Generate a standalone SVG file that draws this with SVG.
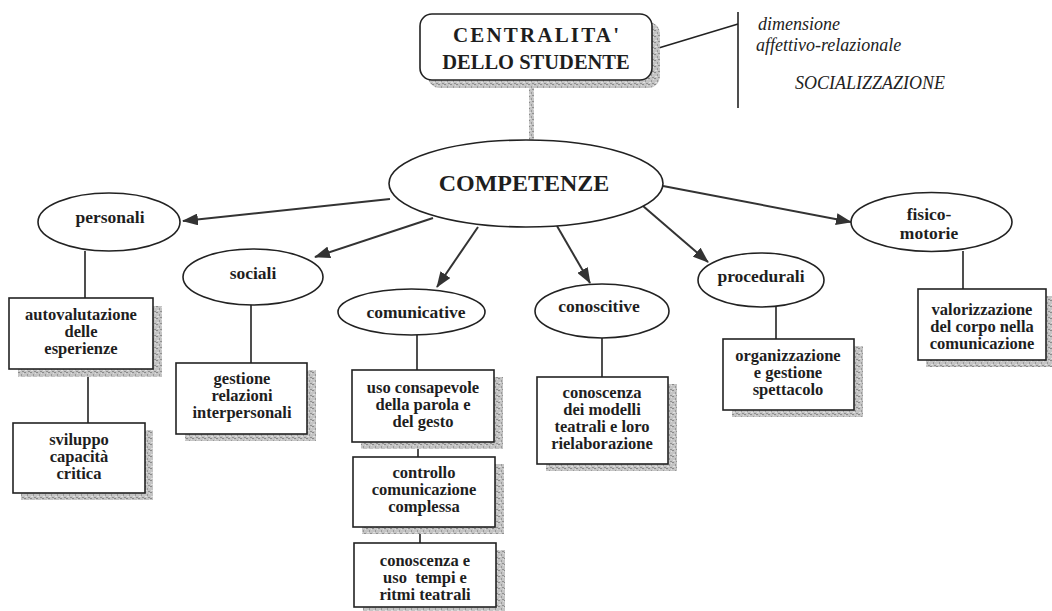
<svg xmlns="http://www.w3.org/2000/svg" width="1052" height="611" viewBox="0 0 1052 611">
<style>
.bg{fill:#fff}
.box{fill:#fff;stroke:#222;stroke-width:1.6}
.shd{fill:url(#grain)}
.ell{fill:#fff;stroke:#222;stroke-width:1.6}
.ln{stroke:#222;stroke-width:1.6;fill:none}
.arr{stroke:#333;stroke-width:2;fill:none;marker-end:url(#ah)}
.t{font-family:"Liberation Serif","Times New Roman",serif;font-weight:bold;fill:#1e1e1e;text-anchor:middle}
.bt{font-size:16.5px}
.et{font-size:17.5px}
.it{font-family:"Liberation Serif","Times New Roman",serif;font-style:italic;font-size:18px;fill:#222}
</style>
<defs>
<pattern id="grain" width="6" height="6" patternUnits="userSpaceOnUse">
<rect width="6" height="6" fill="#c4c4c4"/>
<rect x="0" y="0" width="2" height="1" fill="#8a8a8a"/>
<rect x="3" y="2" width="1" height="2" fill="#999"/>
<rect x="1" y="4" width="2" height="1" fill="#e0e0e0"/>
<rect x="4" y="5" width="2" height="1" fill="#909090"/>
<rect x="5" y="1" width="1" height="1" fill="#ddd"/>
</pattern>
<marker id="ah" markerUnits="userSpaceOnUse" markerWidth="16" markerHeight="12" refX="15" refY="6" orient="auto">
<path d="M0,0 L16,6 L0,12 Z" fill="#333"/>
</marker>
</defs>
<rect class="bg" width="1052" height="611"/>

<g id="connectors">
<rect x="529" y="82" width="5" height="58" fill="url(#grain)"/>
<line class="ln" x1="652" y1="50" x2="738" y2="24"/>
<line class="ln" x1="738" y1="12" x2="738" y2="108"/>
<line class="arr" x1="390" y1="199" x2="183" y2="221"/>
<line class="arr" x1="433" y1="218" x2="315" y2="257"/>
<line class="arr" x1="478" y1="227" x2="437" y2="287"/>
<line class="arr" x1="557" y1="226" x2="590" y2="283"/>
<line class="arr" x1="643" y1="206" x2="708" y2="262"/>
<line class="arr" x1="663" y1="186" x2="851" y2="222"/>
<line class="ln" x1="85" y1="251" x2="85" y2="298"/>
<line class="ln" x1="88" y1="369" x2="88" y2="423"/>
<line class="ln" x1="251" y1="305" x2="251" y2="363"/>
<line class="ln" x1="417" y1="335" x2="417" y2="370"/>
<line class="ln" x1="418" y1="442" x2="418" y2="457"/>
<line class="ln" x1="420" y1="527" x2="420" y2="543"/>
<line class="ln" x1="602" y1="338" x2="602" y2="377"/>
<line class="ln" x1="776" y1="307" x2="776" y2="339"/>
<line class="ln" x1="963" y1="251" x2="963" y2="289"/>
</g>

<g id="centralita">
<rect class="shd" x="428" y="22" width="232" height="66" rx="12"/>
<rect class="box" x="420" y="14" width="232" height="66" rx="12"/>
<text class="t" x="536" y="42" font-size="21" textLength="166" lengthAdjust="spacing">CENTRALITA'</text>
<text class="t" x="536" y="69" font-size="20.5">DELLO STUDENTE</text>
</g>

<g id="note">
<text class="it" x="758" y="30">dimensione</text>
<text class="it" x="756" y="51">affettivo-relazionale</text>
<text class="it" x="795" y="89">SOCIALIZZAZIONE</text>
</g>

<g id="competenze">
<ellipse class="ell" cx="526" cy="183.5" rx="137" ry="43.5"/>
<text class="t" x="524" y="191" font-size="24">COMPETENZE</text>
</g>

<g id="personali">
<ellipse class="ell" cx="109" cy="222" rx="71" ry="29"/>
<text class="t et" x="110" y="223">personali</text>
</g>
<g id="sociali">
<ellipse class="ell" cx="253" cy="277" rx="70" ry="28"/>
<text class="t et" x="253" y="279">sociali</text>
</g>
<g id="comunicative">
<ellipse class="ell" cx="411.5" cy="312" rx="73.5" ry="23"/>
<text class="t et" x="416" y="318">comunicative</text>
</g>
<g id="conoscitive">
<ellipse class="ell" cx="602" cy="311" rx="67" ry="27"/>
<text class="t et" x="599" y="312">conoscitive</text>
</g>
<g id="procedurali">
<ellipse class="ell" cx="761" cy="280" rx="63" ry="27"/>
<text class="t et" x="761" y="282">procedurali</text>
</g>
<g id="fisico-motorie">
<ellipse class="ell" cx="931.5" cy="222" rx="80.5" ry="29.5"/>
<text class="t et" x="929" y="220">fisico-</text>
<text class="t et" x="929" y="239">motorie</text>
</g>

<g id="autovalutazione">
<rect class="shd" x="18" y="306" width="144" height="71"/>
<rect class="box" x="9" y="298" width="144" height="71"/>
<text class="t bt" x="81" y="320">autovalutazione</text>
<text class="t bt" x="81" y="337">delle</text>
<text class="t bt" x="81" y="354">esperienze</text>
</g>
<g id="sviluppo">
<rect class="shd" x="21" y="430" width="132" height="70"/>
<rect class="box" x="13" y="423" width="132" height="70"/>
<text class="t bt" x="79" y="445">sviluppo</text>
<text class="t bt" x="79" y="462">capacità</text>
<text class="t bt" x="79" y="479">critica</text>
</g>
<g id="gestione">
<rect class="shd" x="185" y="370" width="131" height="71"/>
<rect class="box" x="176" y="363" width="131" height="71"/>
<text class="t bt" x="242" y="384">gestione</text>
<text class="t bt" x="242" y="401">relazioni</text>
<text class="t bt" x="242" y="418">interpersonali</text>
</g>
<g id="uso-consapevole">
<rect class="shd" x="361" y="377" width="142" height="72"/>
<rect class="box" x="352" y="370" width="142" height="72"/>
<text class="t bt" x="423" y="393">uso consapevole</text>
<text class="t bt" x="423" y="410">della parola e</text>
<text class="t bt" x="423" y="427">del gesto</text>
</g>
<g id="controllo">
<rect class="shd" x="362" y="464" width="142" height="70"/>
<rect class="box" x="353" y="457" width="142" height="70"/>
<text class="t bt" x="424" y="478">controllo</text>
<text class="t bt" x="424" y="495">comunicazione</text>
<text class="t bt" x="424" y="512">complessa</text>
</g>
<g id="tempi-ritmi">
<rect class="shd" x="363" y="550" width="142" height="64"/>
<rect class="box" x="354" y="543" width="142" height="64"/>
<text class="t bt" x="425" y="566">conoscenza e</text>
<text class="t bt" x="425" y="583" xml:space="preserve">uso  tempi e</text>
<text class="t bt" x="425" y="600">ritmi teatrali</text>
</g>
<g id="modelli-teatrali">
<rect class="shd" x="546" y="384" width="131" height="87"/>
<rect class="box" x="537" y="377" width="131" height="87"/>
<text class="t bt" x="602" y="398">conoscenza</text>
<text class="t bt" x="602" y="415">dei modelli</text>
<text class="t bt" x="602" y="432">teatrali e loro</text>
<text class="t bt" x="602" y="449">rielaborazione</text>
</g>
<g id="organizzazione">
<rect class="shd" x="732" y="346" width="131" height="71"/>
<rect class="box" x="723" y="339" width="131" height="71"/>
<text class="t bt" x="788" y="361">organizzazione</text>
<text class="t bt" x="788" y="378">e gestione</text>
<text class="t bt" x="788" y="395">spettacolo</text>
</g>
<g id="valorizzazione">
<rect class="shd" x="926" y="296" width="126" height="71"/>
<rect class="box" x="918" y="289" width="128" height="71"/>
<text class="t bt" x="982" y="315">valorizzazione</text>
<text class="t bt" x="982" y="332">del corpo nella</text>
<text class="t bt" x="982" y="349">comunicazione</text>
</g>
</svg>
